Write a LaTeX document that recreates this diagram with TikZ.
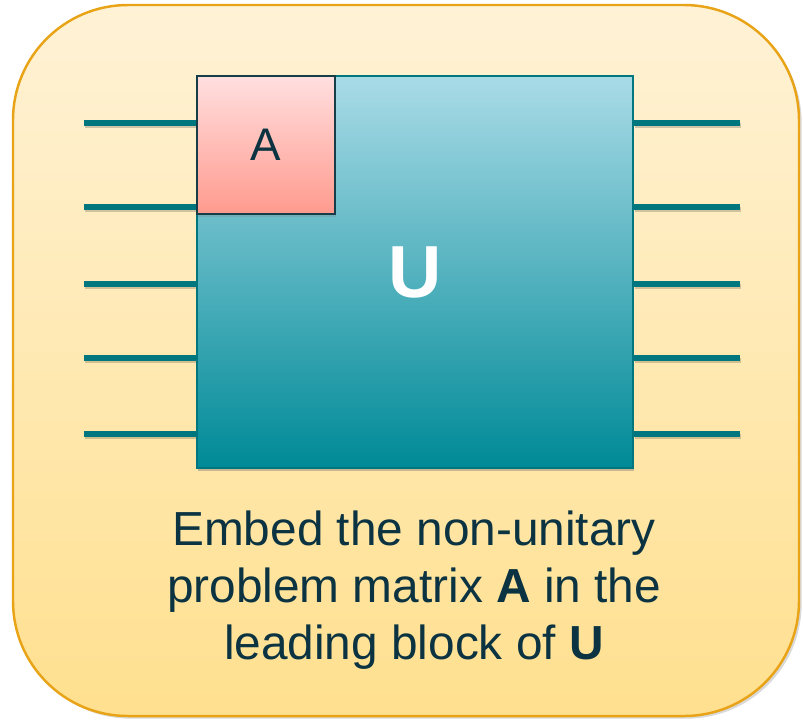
\documentclass[tikz,border=0pt]{standalone}
\usepackage{fontspec}
\setmainfont{Liberation Sans}
\usetikzlibrary{shadows}

\definecolor{frameedge}{HTML}{E8A317}
\definecolor{frametop}{HTML}{FFF2D6}
\definecolor{framebot}{HTML}{FFE08F}
\definecolor{utop}{HTML}{A9DBE7}
\definecolor{ubot}{HTML}{008A97}
\definecolor{uedge}{HTML}{00777F}
\definecolor{atop}{HTML}{FFDFDF}
\definecolor{abot}{HTML}{FF9A8E}
\definecolor{aedge}{HTML}{173E48}
\definecolor{wireteal}{HTML}{00777F}
\definecolor{inktext}{HTML}{0B3341}

\tikzset{
  frame/.style={draw=frameedge, line width=1.4pt, rounded corners=2.3cm,
    top color=frametop, bottom color=framebot,
    drop shadow={opacity=0.3, shadow xshift=1.5pt, shadow yshift=-1.5pt}},
  wire/.style={draw=wireteal, line width=3pt, line cap=butt,
    preaction={draw=black, opacity=0.18, line width=3pt,
      transform canvas={xshift=0.8pt, yshift=-1.6pt}}},
  ubox/.style={draw=uedge, line width=1.1pt, top color=utop, bottom color=ubot,
    minimum width=8.72cm, minimum height=7.84cm, inner sep=0pt,
    text=white, font=\fontsize{42}{48}\selectfont\bfseries,
    drop shadow={opacity=0.25, shadow xshift=0.8pt, shadow yshift=-1.6pt}},
  abox/.style={draw=aedge, line width=1.4pt, top color=atop, bottom color=abot,
    minimum width=2.76cm, minimum height=2.76cm, inner sep=0pt,
    text=inktext, font=\fontsize{26}{31}\selectfont,
    drop shadow={opacity=0.25, shadow xshift=0.8pt, shadow yshift=-1.6pt}},
  caption/.style={align=center, text=inktext, font=\fontsize{27.2}{32.3}\selectfont}
}

\begin{document}
\begin{tikzpicture}[x=0.02cm, y=-0.02cm]
    \useasboundingbox (0,0) rectangle (803,721);

    % Rounded frame round everything
    \path[frame] (13,5) rectangle (799,716);

    % Wire ends, left and right
    \foreach \i/\y in {1/123, 2/207, 3/284, 4/358, 5/434} {
        \coordinate (in\i) at (84,\y);
        \coordinate (out\i) at (740,\y);
    }

    % The unitary block
    \node[ubox] (U) at (415,272) {};

    % Wires into and out of U
    \foreach \i in {1,...,5} {
        \draw[wire] (in\i) -- (in\i -| U.west);
        \draw[wire] (U.east |- out\i) -- (out\i);
    }

    % Redraw U on top of the wire shadows
    \node[ubox] (U) at (415,272) {U};

    % Leading block A
    \node[abox] (A) at (266,145) {A};

    % Caption under the block
    \node[caption] (cap) at (414,590)
        {Embed the non-unitary\\ problem matrix \textbf{A} in the\\ leading block of \textbf{U}};
\end{tikzpicture}
\end{document}
